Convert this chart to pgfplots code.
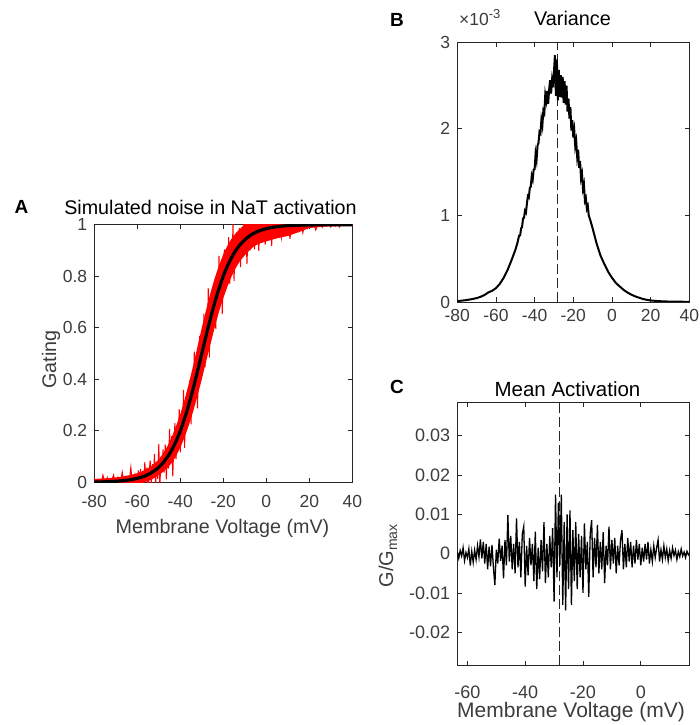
\documentclass[border=0pt]{standalone}
\usepackage{fontspec}
\setmainfont{Liberation Sans}
\usepackage{pgfplots}
\pgfplotsset{compat=1.18}
\definecolor{mgray}{RGB}{38,38,38}
\definecolor{tgray}{RGB}{60,60,60}
\pgfplotsset{
  mstyle/.style={
    scale only axis,
    anchor=south west,
    axis line style={mgray, line width=0.8pt},
    tick style={mgray, line width=0.8pt},
    tick align=inside,
    major tick length=4.5pt,
    xtick pos=both, ytick pos=both,
    scaled x ticks=false, scaled y ticks=false,
    xticklabel style={anchor=base, inner sep=0pt, text=tgray, font=\fontsize{17.5}{17.5}\selectfont},
    yticklabel style={anchor=east, inner sep=0pt, xshift=-7pt, text=tgray, font=\fontsize{17.5}{17.5}\selectfont},
    clip=true,
  }
}
\begin{document}
\begin{tikzpicture}
\path[use as bounding box] (0,0) rectangle (699pt,725pt);

% ---------------- Panel A ----------------
\begin{axis}[mstyle, at={(94.3pt,242.7pt)}, width=258pt, height=257.6pt,
  xmin=-80, xmax=40, ymin=0, ymax=1,
  xtick={-80,-60,-40,-20,0,20,40}, xticklabels={-80,-60,-40,-20,0,20,40},
  ytick={0,0.2,0.4,0.6,0.8,1}, yticklabels={0,0.2,0.4,0.6,0.8,1},
  xticklabel style={yshift=-25pt}]
% solid core of the noisy band
\addplot[fill=red, draw=none, no markers] coordinates {
(-80,0.013)(-76,0.015)(-72,0.017)(-68,0.021)(-64,0.027)(-62,0.031)(-60,0.035)(-58,0.042)(-56,0.050)(-54,0.060)
(-52,0.073)(-50,0.089)(-48,0.112)(-46,0.140)(-44,0.175)(-42,0.217)(-40,0.265)(-38,0.321)(-36,0.384)(-34,0.454)
(-32,0.527)(-30,0.600)(-28,0.669)(-26,0.735)(-24,0.792)(-22,0.842)(-20,0.885)(-18,0.920)(-16,0.948)(-14,0.969)
(-12,0.986)(-10,1.001)(-8,1.011)(-6,1.018)(-4,1.024)(0,1.03)(40,1.03)
(40,0.996)(35,0.995)(30,0.994)(25,0.991)(20,0.987)(18,0.981)(16,0.974)(14,0.968)(12,0.962)(10,0.956)
(8,0.953)(6,0.949)(4,0.945)(2,0.940)(0,0.935)(-2,0.930)(-4,0.924)(-6,0.914)(-8,0.899)(-10,0.881)
(-12,0.862)(-14,0.835)(-16,0.802)(-18,0.762)(-20,0.715)(-22,0.662)(-24,0.602)(-26,0.535)(-28,0.469)(-30,0.400)
(-32,0.335)(-34,0.276)(-36,0.222)(-38,0.175)(-40,0.135)(-42,0.101)(-44,0.075)(-46,0.056)(-48,0.040)(-50,0.029)
(-52,0.017)(-54,0.008)(-56,0.002)(-58,-0.002)(-60,-0.005)(-62,-0.007)(-64,-0.009)(-68,-0.011)(-72,-0.011)(-76,-0.011)(-80,-0.011)
};
% noisy trace
\addplot[red, line width=1pt, no markers] coordinates {
(-80,0.015)(-79,-0.0185)(-78,0.008)(-77,-0.013)(-76,0.028)(-75,-0.004)(-74,0.018)(-73,-0.030)(-72,0.006)(-71,0.028)
(-70,-0.0185)(-69,0.019)(-68,-0.007)(-67,0.039)(-66,-0.023)(-65,0.017)(-64,-0.015)(-63,0.058)(-62,-0.033)(-61,0.031)
(-60,0.007)(-59.5,0.046)(-59,-0.007)(-58.5,0.052)(-58,-0.025)(-57.5,0.039)(-57,-0.006)(-56.5,0.078)(-56,0.014)(-55.5,0.058)
(-55,-0.038)(-54.5,0.039)(-54,0.085)(-53.5,-0.008)(-53,0.070)(-52.5,0.018)(-52,0.110)(-51.5,-0.011)(-51,0.069)(-50.5,0.012)
(-50,0.149)(-49.5,-0.019)(-49,0.099)(-48.5,0.057)(-48,0.129)(-47.5,0.038)(-47,0.146)(-46.5,0.011)(-46,0.128)(-45.5,0.053)
(-45,0.206)(-44.5,0.097)(-44,0.179)(-43.5,0.023)(-43,0.153)(-42.5,0.230)(-42,0.090)(-41.5,0.216)(-41,0.143)(-40.5,0.284)
(-40,0.116)(-39.5,0.235)(-39,0.162)(-38.5,0.359)(-38,0.134)(-37.5,0.306)(-37,0.256)(-36.5,0.361)(-36,0.243)(-35.5,0.397)
(-35,0.225)(-34.5,0.390)(-34,0.296)(-33.5,0.507)(-33,0.368)(-32.5,0.486)(-32,0.287)(-31.5,0.463)(-31,0.568)(-30.5,0.395)
(-30,0.560)(-29.5,0.472)(-29,0.655)(-28.5,0.447)(-28,0.599)(-27.5,0.511)(-27,0.753)(-26.5,0.484)(-26,0.687)(-25.5,0.628)
(-25,0.750)(-24.5,0.615)(-24,0.786)(-23.5,0.595)(-23,0.768)(-22.5,0.667)(-22,0.879)(-21.5,0.737)(-21,0.846)(-20.5,0.653)
(-20,0.813)(-19.5,0.904)(-19,0.743)(-18.5,0.883)(-18,0.802)(-17.5,0.952)(-17,0.771)(-16.5,0.891)(-16,0.814)(-15.5,1.003)
(-15,0.781)(-14.5,0.938)(-14,0.885)(-13.5,0.971)(-13,0.863)(-12.5,0.987)(-12,0.835)(-11.5,0.962)(-11,0.879)(-10.5,1.030)
(-10,0.920)(-9.5,0.997)(-9,0.847)(-8.5,0.963)(-8,1.024)(-7.5,0.900)(-7,1.000)(-6.5,0.934)(-6,1.040)(-5.5,0.904)
(-5,0.988)(-4.5,0.927)(-4,1.050)(-3.5,0.898)(-3,1.007)(-2.5,0.966)(-2,1.025)(-1.5,0.945)(-1,1.030)(-0.5,0.923)
(0,1.008)(0.5,0.949)(1,1.050)(1.5,0.973)(2,1.024)(2.5,0.918)(3,0.998)(3.5,1.040)(4,0.950)(4.5,1.020)(5,0.972)
(6,1.050)(7,0.949)(8,1.008)(9,0.965)(10,1.050)(11,0.945)(12,1.015)(13,0.989)(14,1.020)(15,0.978)
(16,1.020)(17,0.969)(18,1.008)(19,0.986)(20,1.020)(21,0.994)(22,1.010)(23,0.980)(24,1.002)(25,1.012)
(26,0.990)(27,1.006)(28,0.996)(29,1.010)(30,0.991)(31,1.002)(32,0.994)(33,1.010)(34,0.991)(35,1.003)
(36,0.998)(37,1.005)(38,0.997)(39,1.003)(40,0.995)
};
\addplot[black, line width=3.2pt, no markers, smooth] coordinates {
(-80,0.001)(-76,0.0017)(-72,0.0029)(-70,0.0039)(-68,0.0051)(-66,0.0067)(-64,0.0088)(-62,0.0116)
(-60,0.0153)(-59,0.0175)(-58,0.0200)(-57,0.0230)(-56,0.0263)(-55,0.0301)(-54,0.0344)(-53,0.0394)(-52,0.0450)(-51,0.0513)
(-50,0.0586)(-49,0.0667)(-48,0.0759)(-47,0.0862)(-46,0.0978)(-45,0.1107)(-44,0.1252)(-43,0.1412)(-42,0.1589)(-41,0.1783)
(-40,0.1997)(-39,0.2227)(-38,0.2477)(-37,0.2745)(-36,0.3030)(-35,0.3331)(-34,0.3646)(-33,0.3973)(-32,0.4311)(-31,0.4653)
(-30,0.5)(-29,0.5347)(-28,0.5689)(-27,0.6027)(-26,0.6354)(-25,0.6669)(-24,0.6970)(-23,0.7255)(-22,0.7523)(-21,0.7773)
(-20,0.8003)(-19,0.8217)(-18,0.8411)(-17,0.8588)(-16,0.8748)(-15,0.8893)(-14,0.9022)(-13,0.9138)(-12,0.9241)(-11,0.9333)
(-10,0.9414)(-9,0.9487)(-8,0.9550)(-7,0.9606)(-6,0.9656)(-5,0.9699)(-4,0.9737)(-3,0.9770)(-2,0.9799)(-1,0.9825)
(0,0.9847)(2,0.9884)(4,0.9912)(6,0.9933)(8,0.9949)(10,0.9962)(12,0.9971)(14,0.9978)(16,0.9983)(18,0.9987)
(20,0.9990)(25,0.9995)(30,0.9997)(35,0.9998)(40,0.9999)
};
\end{axis}

% ---------------- Panel B ----------------
\begin{axis}[mstyle, at={(457.3pt,423pt)}, width=232pt, height=259.7pt,
  xmin=-80, xmax=40, ymin=0, ymax=3,
  xtick={-80,-60,-40,-20,0,20,40}, xticklabels={-80,-60,-40,-20,0,20,40},
  ytick={0,1,2,3}, yticklabels={0,1,2,3},
  xticklabel style={yshift=-19.7pt}]
\addplot[mgray, line width=0.9pt, no markers, dash pattern=on 10pt off 4pt] coordinates {(-28.4,0)(-28.4,3)};
\addplot[black, line width=2pt, no markers] coordinates {
(-80,0.01)(-78,0.015)(-76,0.02)(-74,0.027)(-72,0.035)(-70,0.045)(-68,0.06)(-66,0.08)(-64,0.11)(-62,0.13)
(-60,0.16)(-58,0.21)(-56,0.28)(-54,0.37)(-52,0.48)(-50,0.6)(-49,0.675)
(-48,0.768)(-47.5,0.769)(-47,0.851)(-46.5,0.866)(-46,0.966)(-45.5,0.972)(-45,1.053)(-44.5,1.033)(-44,1.135)(-43.5,1.222)
(-43,1.207)(-42.5,1.318)(-42,1.332)(-41.5,1.455)(-41,1.415)(-40.5,1.529)(-40,1.535)(-39.5,1.713)(-39,1.643)(-38.5,1.807)
(-38,1.838)(-37.5,1.963)(-37,1.947)(-36.5,2.105)(-36,2.04)(-35.5,2.209)(-35,2.181)(-34.5,2.394)(-34,2.327)(-33.5,2.439)
(-33,2.288)(-32.5,2.453)(-32,2.561)(-31.5,2.407)(-31,2.561)(-30.5,2.480)
(-30,2.66)(-29.5,2.85)(-29,2.38)(-28.5,2.80)(-28,2.33)(-27.5,2.68)(-27,2.37)(-26.5,2.62)(-26,2.36)(-25.5,2.60)
(-25,2.30)(-24.5,2.55)(-24,2.28)(-23.5,2.50)(-23,2.20)(-22.5,2.35)(-22,2.12)(-21.5,2.25)(-21,1.98)(-20.5,2.10)
(-20,1.90)(-19.5,1.98)(-19,1.80)(-18.5,1.86)(-18,1.68)(-17.5,1.76)(-17,1.55)(-16.5,1.63)(-16,1.43)(-15.5,1.48)
(-15,1.31)(-14.5,1.36)(-14,1.17)(-13.5,1.20)(-13,1.08)(-12.5,1.11)(-12,1.00)
(-11,0.93)(-10,0.85)(-9,0.765)(-8,0.68)(-7,0.61)(-6,0.54)(-5,0.49)(-4,0.44)(-2,0.35)(0,0.28)
(2,0.22)(4,0.18)(6,0.14)(8,0.11)(10,0.085)(12,0.065)(14,0.05)(16,0.035)(18,0.025)(20,0.018)
(24,0.01)(28,0.006)(32,0.004)(36,0.003)(40,0.002)
};
\end{axis}

% ---------------- Panel C ----------------
\begin{axis}[mstyle, at={(457.3pt,59.7pt)}, width=232pt, height=263pt,
  xmin=-63.5, xmax=16.8, ymin=-0.0284, ymax=0.0385,
  xtick={-60,-40,-20,0}, xticklabels={-60,-40,-20,0},
  ytick={-0.02,-0.01,0,0.01,0.02,0.03}, yticklabels={-0.02,-0.01,0,0.01,0.02,0.03},
  xticklabel style={yshift=-33pt, font=\fontsize{18}{18}\selectfont},
  yticklabel style={font=\fontsize{18}{18}\selectfont}]
\addplot[mgray, line width=0.9pt, no markers, dash pattern=on 10pt off 4pt] coordinates {(-28.3,-0.0284)(-28.3,0.0385)};
\addplot[black, line width=1.3pt, no markers] coordinates {
(-63.5,0.0005)(-63,-0.0012)(-62.5,0.0008)(-62,-0.0006)(-61.5,0.0015)(-61,-0.0018)(-60.5,0.0003)(-60,-0.0010)(-59.5,0.0012)(-59,-0.0030)
(-58.5,0.0006)(-58,-0.0022)(-57.5,0.0009)(-57,-0.0015)(-56.5,0.0020)(-56,-0.0008)(-55.5,0.0036)(-55,-0.0012)(-54.5,0.0030)(-54,-0.0025)
(-53.5,0.0025)(-53,-0.0040)(-52.5,0.0018)(-52,-0.0032)(-51.5,0.0022)(-51,-0.0035)(-50.5,-0.0080)(-50,0.0010)(-49.5,-0.0025)(-49,0.0038)
(-48.5,-0.0018)(-48,0.0020)(-47.5,-0.0063)(-47,0.0035)(-46.5,-0.0030)(-46,0.0098)(-45.5,-0.0020)(-45,0.0045)(-44.5,-0.0040)(-44,0.0025)
(-43.5,-0.0050)(-43,0.0090)(-42.5,-0.0035)(-42,0.0030)(-41.5,-0.0060)(-41,0.0050)(-40.5,0.0069)(-40,-0.0084)(-39.5,0.0020)(-39,-0.0055)
(-38.5,0.0040)(-38,-0.0030)(-37.5,0.0025)(-37,-0.0070)(-36.5,0.0056)(-36,-0.0090)(-35.5,0.0015)(-35,-0.0065)(-34.5,0.0035)(-34,-0.0045)
(-33.5,0.0080)(-33,-0.0075)(-32.5,0.0025)(-32,-0.0060)(-31.5,0.0045)(-31,-0.0035)(-30.5,0.0065)(-30,-0.0122)(-29.5,0.0150)(-29,-0.0060)
(-28.5,0.0130)(-28,-0.0030)(-27.5,0.0150)(-27,-0.0130)(-26.5,0.0080)(-26,-0.0144)(-25.5,0.0100)(-25,-0.0090)(-24.5,0.0110)(-24,-0.0130)
(-23.5,0.0060)(-23,-0.0070)(-22.5,0.0080)(-22,-0.0090)(-21.5,0.0050)(-21,-0.0060)(-20.5,0.0045)(-20,-0.0100)(-19.5,0.0077)(-19,-0.0040)
(-18.5,0.0030)(-18,-0.0110)(-17.5,0.0050)(-17,0.0085)(-16.5,-0.0060)(-16,0.0040)(-15.5,-0.0035)(-15,0.0073)(-14.5,-0.0050)(-14,0.0030)
(-13.5,-0.0040)(-13,0.0055)(-12.5,-0.0075)(-12,0.0020)(-11.5,-0.0030)(-11,0.0069)(-10.5,-0.0040)(-10,0.0035)(-9.5,-0.0025)(-9,0.0040)
(-8.5,-0.0050)(-8,0.0020)(-7.5,-0.0030)(-7,0.0035)(-6.5,0.0060)(-6,-0.0040)(-5.5,0.0025)(-5,-0.0035)(-4.5,0.0040)(-4,-0.0020)
(-3.5,0.0030)(-3,-0.0035)(-2.5,0.0020)(-2,-0.0025)(-1.5,0.0035)(-1,-0.0015)(-0.5,0.0025)(0,-0.0030)(0.5,0.0015)(1,-0.0020)
(1.5,0.0025)(2,-0.0015)(2.5,0.0030)(3,-0.0025)(3.5,0.0010)(4,-0.0020)(4.5,0.0020)(5,-0.0010)(5.5,0.0015)(6,0.0035)
(6.5,-0.0020)(7,0.0010)(7.5,-0.0015)(8,0.0020)(8.5,-0.0010)(9,0.0012)(9.5,-0.0018)(10,0.0008)(10.5,-0.0012)(11,0.0015)
(11.5,-0.0005)(12,0.0009)(12.5,-0.0015)(13,0.0005)(13.5,-0.0008)(14,0.0012)(14.5,-0.0006)(15,0.0004)(15.5,-0.0010)(16,0.0006)
(16.5,-0.0003)(17,0.0002)
};
\end{axis}

% ---------------- Text ----------------
\node[anchor=base west, font=\fontsize{19}{19}\selectfont\bfseries] at (11pt,511.7pt) {A};
\node[anchor=base west, font=\fontsize{19}{19}\selectfont\bfseries] at (386.7pt,698.3pt) {B};
\node[anchor=base west, font=\fontsize{19}{19}\selectfont\bfseries] at (386.7pt,331.7pt) {C};

\node[anchor=base, font=\fontsize{19.7}{19.7}\selectfont] at (210.5pt,510.9pt) {Simulated noise in NaT activation};
\node[anchor=base, text=tgray, font=\fontsize{19.7}{19.7}\selectfont] at (222.5pt,191pt) {Membrane Voltage (mV)};
\node[anchor=base, rotate=90, text=tgray, font=\fontsize{19.7}{19.7}\selectfont] at (56.1pt,365.5pt) {Gating};

\node[anchor=base, font=\fontsize{19.8}{19.8}\selectfont] at (572.5pt,699.5pt) {Variance};
\node[anchor=base west, inner sep=0pt, text=tgray, font=\fontsize{17.5}{17.5}\selectfont] at (459pt,699.7pt) {×10\raisebox{7pt}{\fontsize{13}{13}\selectfont -3}};

\node[anchor=base, font=\fontsize{20.5}{20.5}\selectfont] at (567.5pt,328.6pt) {Mean Activation};
\node[anchor=base, text=tgray, font=\fontsize{21}{21}\selectfont] at (571pt,7pt) {Membrane Voltage (mV)};
\node[anchor=base, rotate=90, text=tgray, font=\fontsize{20}{20}\selectfont] at (393pt,169pt) {G/G\raisebox{-4pt}{\fontsize{14}{14}\selectfont max}};
\end{tikzpicture}
\end{document}
